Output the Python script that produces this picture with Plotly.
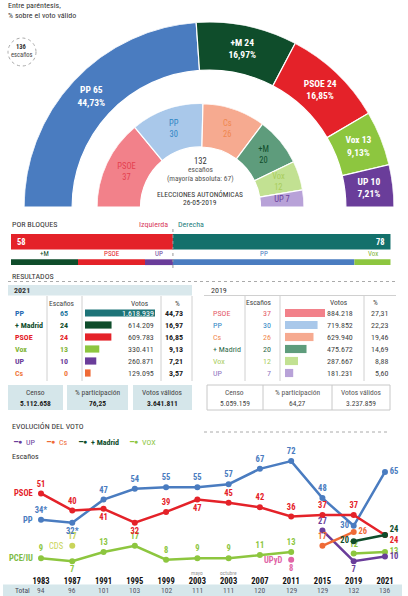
import plotly.graph_objects as go
import numpy as np

# ---------------- DATA ----------------
ring21_parties = ["PP", "+M", "PSOE", "Vox", "UP"]
ring21_seats = [65, 24, 24, 13, 10]
ring21_pct = ["44,73%", "16,97%", "16,85%", "9,13%", "7,21%"]

ring19_parties = ["PSOE", "PP", "Cs", "+M", "Vox", "UP"]
ring19_seats = [37, 30, 26, 20, 12, 7]

bloc_names = ["Izquierda", "Derecha"]
bloc_seats = [58, 78]
bloc_parties = ["+M", "PSOE", "UP", "PP", "Vox"]
bloc_party_seats = [24, 24, 10, 65, 13]

t21_party = ["PP", "+ Madrid", "PSOE", "Vox", "UP", "Cs"]
t21_seats = [65, 24, 24, 13, 10, 0]
t21_votes = [1618939, 614209, 609783, 330411, 260871, 129095]
t21_pct = ["44,73", "16,97", "16,85", "9,13", "7,21", "3,57"]

t19_party = ["PSOE", "PP", "Cs", "+ Madrid", "Vox", "UP"]
t19_seats = [37, 30, 26, 20, 12, 7]
t19_votes = [884218, 719852, 629940, 475672, 287667, 181231]
t19_pct = ["27,31", "22,23", "19,46", "14,69", "8,88", "5,60"]

stat_labels = ["Censo", "% participación", "Votos válidos"]
stat_2021 = ["5.112.658", "76,25", "3.641.811"]
stat_2019 = ["5.059.159", "64,27", "3.237.859"]

years = ["1983", "1987", "1991", "1995", "1999", "2003", "2003", "2007", "2011", "2015", "2019", "2021"]
year_notes = {5: "mayo", 6: "octubre"}
totals = [94, 96, 101, 103, 102, 111, 111, 120, 129, 129, 132, 136]
N = None
ev_psoe = [51, 40, 41, 32, 39, 47, 45, 42, 36, 37, 37, 24]
ev_pp = [34, 32, 47, 54, 55, 55, 57, 67, 72, 48, 30, 65]
ev_iu = [9, 7, 13, 17, 8, 9, 9, 11, 13, N, N, N]
ev_cds = [N, 17, N, N, N, N, N, N, N, N, N, N]
ev_upyd = [N, N, N, N, N, N, N, N, 8, N, N, N]
ev_up = [N, N, N, N, N, N, N, N, N, 27, 7, 10]
ev_cs = [N, N, N, N, N, N, N, N, N, 17, 26, N]
ev_mm = [N, N, N, N, N, N, N, N, N, N, 20, 24]
ev_vox = [N, N, N, N, N, N, N, N, N, N, 12, 13]

# ---------------- STYLE ----------------
W, H = 408, 596
def X(px): return px / W
def Y(py): return 1 - py / H

FONT = "Liberation Sans Narrow, Roboto Condensed, Roboto, sans-serif"
C = {
    "PP": "#4a7cc0", "+M": "#0f4d2b", "PSOE": "#e42229", "Vox": "#8dc63f", "UP": "#6a3d9a",
    "Cs": "#ef6a36",
}
C19 = {"PSOE": "#f2818a", "PP": "#a9c8ea", "Cs": "#f6aa90", "+M": "#5e9c7c", "Vox": "#c2e192", "UP": "#b8a2d8"}
T19 = {"PSOE": "#e4404e", "PP": "#2f86c5", "Cs": "#f0874f", "+M": "#0f4d2b", "Vox": "#a9cd5c", "UP": "#6a3d9a"}
TXT = "#333333"

fig = go.Figure()
ann = []
shapes = []

def text(px, py, s, size=8, color=TXT, xanchor="center", bold=False, yanchor="middle"):
    if bold:
        s = f"<b>{s}</b>"
    ann.append(dict(x=X(px), y=Y(py), xref="paper", yref="paper", text=s, showarrow=False,
                    xanchor=xanchor, yanchor=yanchor, font=dict(size=size, color=color, family=FONT)))

# ---------------- RINGS ----------------
def ring(seats):
    tot = sum(seats)
    w = np.array(seats) * 180.0 / tot
    start = np.concatenate([[0], np.cumsum(w)[:-1]])
    return start + w / 2, w

th21, w21 = ring(ring21_seats)
base21 = 0.74
fig.add_trace(go.Barpolar(theta=th21, width=w21, r=[1 - base21] * len(w21), base=[base21] * len(w21),
                          marker=dict(color=[C[p] for p in ring21_parties], line=dict(color="white", width=1.2)),
                          subplot="polar", showlegend=False, hoverinfo="skip"))
lab21 = [f"<b>{p} {s}<br>{q}</b>" for p, s, q in zip(ring21_parties, ring21_seats, ring21_pct)]
fig.add_trace(go.Scatterpolar(theta=th21, r=[(1 + base21) / 2] * len(w21), mode="text", text=lab21,
                              textfont=dict(color="white", size=9.5, family=FONT), subplot="polar",
                              showlegend=False, hoverinfo="skip"))

th19, w19 = ring(ring19_seats)
base19 = 0.58
fig.add_trace(go.Barpolar(theta=th19, width=w19, r=[1 - base19] * len(w19), base=[base19] * len(w19),
                          marker=dict(color=[C19[p] for p in ring19_parties], line=dict(color="white", width=1.2)),
                          subplot="polar2", showlegend=False, hoverinfo="skip"))
lab19 = []
for p, s in zip(ring19_parties, ring19_seats):
    lab19.append(f"{p} {s}" if p == "UP" else f"{p}<br>{s}")
fig.add_trace(go.Scatterpolar(theta=th19, r=[0.79] * len(w19), mode="text", text=lab19,
                              textfont=dict(color=[T19[p] for p in ring19_parties], size=8.5, family=FONT),
                              subplot="polar2", showlegend=False, hoverinfo="skip"))

# center texts
text(200, 161, "132", 8.5)
text(200, 169.5, "escaños", 7.5, "#555")
text(200, 178, "(mayoría absoluta: 67)", 7.5, "#555")
text(200, 194, "ELECCIONES AUTONÓMICAS", 7.5, "#333")
text(200, 202.5, "26-05-2019", 7.5, "#333")

# top notes
text(6, -3, "Número de diputados.", 8, xanchor="left")
text(6, 5, "Entre paréntesis,", 8, xanchor="left")
text(6, 15, "% sobre el voto válido", 8, xanchor="left")
text(400, -3, "Escrutado: 99,98%", 8, "#777", xanchor="right")
shapes.append(dict(type="circle", xref="paper", yref="paper", x0=X(8), x1=X(36), y0=Y(66), y1=Y(38),
                   line=dict(color="#aaaaaa", width=1, dash="dot")))
text(21.5, 47.5, "136", 6.5, bold=True)
text(21.5, 55.5, "escaños", 6.5, "#444")

# ---------------- BLOQUES ----------------
text(10, 225, "POR BLOQUES", 8, xanchor="left")
bloc_colors = ["#e42229", "#13706b"]
cum = 0
for n, s, c in zip(bloc_names, bloc_seats, bloc_colors):
    fig.add_trace(go.Bar(x=[s], base=[cum], y=[1], orientation="h", width=0.75, marker_color=c,
                         marker_line_width=0, xaxis="x", yaxis="y", showlegend=False, hoverinfo="skip"))
    cum += s
cum = 0
for p, s in zip(bloc_parties, bloc_party_seats):
    fig.add_trace(go.Bar(x=[s], base=[cum], y=[0], orientation="h", width=0.28, marker_color=C[p],
                         marker_line_width=0, xaxis="x", yaxis="y", showlegend=False, hoverinfo="skip"))
    ann.append(dict(x=cum + s / 2, y=0.4, xref="x", yref="y", text=p, showarrow=False, yanchor="middle",
                    font=dict(size=7, color=C[p] if p != "Vox" else "#7fb536", family=FONT)))
    cum += s
ann.append(dict(x=0, y=1, xref="x", yref="y", text=f"<b>{bloc_seats[0]}</b>", showarrow=False,
                xanchor="left", yanchor="middle", xshift=4, font=dict(size=8.5, color="white", family=FONT)))
ann.append(dict(x=sum(bloc_seats), y=1, xref="x", yref="y", text=f"<b>{bloc_seats[1]}</b>", showarrow=False,
                xanchor="right", yanchor="middle", xshift=-4, font=dict(size=8.5, color="white", family=FONT)))
ann.append(dict(x=bloc_seats[0], y=Y(225), xref="x", yref="paper", text=bloc_names[0], showarrow=False,
                xanchor="right", yanchor="middle", xshift=-3, font=dict(size=8, color="#d83a5a", family=FONT)))
ann.append(dict(x=bloc_seats[0], y=Y(225), xref="x", yref="paper", text=bloc_names[1], showarrow=False,
                xanchor="left", yanchor="middle", xshift=3, font=dict(size=8, color="#1f8080", family=FONT)))
shapes.append(dict(type="line", xref="x", yref="paper", x0=bloc_seats[0], x1=bloc_seats[0], y0=Y(229), y1=Y(271),
                   line=dict(color="#999", width=1, dash="dot")))

# ---------------- RESULTADOS ----------------
text(10, 276.5, "RESULTADOS", 8, xanchor="left")
shapes.append(dict(type="line", xref="paper", yref="paper", x0=X(8), x1=X(396), y0=Y(281.5), y1=Y(281.5),
                   line=dict(color="#aaa", width=1, dash="dot")))
# 2021 table
shapes.append(dict(type="rect", xref="paper", yref="paper", x0=X(8), x1=X(192), y0=Y(295.5), y1=Y(285),
                   fillcolor="#d9e8ec", line=dict(width=0), layer="below"))
text(12, 290.5, "2021", 8, xanchor="left", bold=True)
for xv in [47, 82, 161, 192]:
    shapes.append(dict(type="line", xref="paper", yref="paper", x0=X(xv), x1=X(xv), y0=Y(296), y1=Y(381),
                       line=dict(color="#d0d0d0", width=1)))
text(62, 303, "Escaños", 7.5, "#444")
text(140, 303, "Votos", 7.5, "#444")
text(177, 303, "%", 7.5, "#444")
t21_txt = ["#2a6cb5", C["+M"], C["PSOE"], "#7fb536", C["UP"], "#f07a40"]
t21_bar = ["#1d7478", C["+M"], C["PSOE"], C["Vox"], C["UP"], C["Cs"]]
fig.add_trace(go.Bar(x=t21_votes, y=list(range(6)), orientation="h", width=0.6, marker_color=t21_bar,
                     marker_line_width=0, xaxis="x2", yaxis="y2", showlegend=False, hoverinfo="skip"))
for i in range(6):
    ann.append(dict(x=X(13), y=i, xref="paper", yref="y2", text=f"<b>{t21_party[i]}</b>", showarrow=False,
                    xanchor="left", yanchor="middle", font=dict(size=8, color=t21_txt[i], family=FONT)))
    ann.append(dict(x=X(69.5), y=i, xref="paper", yref="y2", text=f"<b>{t21_seats[i]}</b>", showarrow=False,
                    xanchor="right", yanchor="middle",
                    font=dict(size=8, color=t21_txt[i] if i else "#2a7aa0", family=FONT)))
    ann.append(dict(x=X(156), y=i, xref="paper", yref="y2", text=f"{t21_votes[i]:,}".replace(",", "."),
                    showarrow=False, xanchor="right", yanchor="middle",
                    font=dict(size=8, color="white" if i == 0 else "#444", family=FONT)))
    ann.append(dict(x=X(185), y=i, xref="paper", yref="y2", text=f"<b>{t21_pct[i]}</b>", showarrow=False,
                    xanchor="right", yanchor="middle", font=dict(size=8, color="#222", family=FONT)))
# 2019 table
text(209, 290.5, "2019", 8, xanchor="left")
shapes.append(dict(type="line", xref="paper", yref="paper", x0=X(204), x1=X(396), y0=Y(295.5), y1=Y(295.5),
                   line=dict(color="#d0d0d0", width=1)))
for xv in [245, 280, 364]:
    shapes.append(dict(type="line", xref="paper", yref="paper", x0=X(xv), x1=X(xv), y0=Y(296), y1=Y(381),
                       line=dict(color="#d0d0d0", width=1)))
text(259, 302, "Escaños", 7.5, "#444")
text(339, 302, "Votos", 7.5, "#444")
text(375, 302, "%", 7.5, "#444")
t19_keys = ["PSOE", "PP", "Cs", "+M", "Vox", "UP"]
fig.add_trace(go.Bar(x=t19_votes, y=list(range(6)), orientation="h", width=0.68,
                     marker_color=[C19[k] for k in t19_keys], marker_line_width=0,
                     xaxis="x3", yaxis="y3", showlegend=False, hoverinfo="skip"))
t19_txt = ["#e45a68", "#2f86c5", "#f0874f", "#2e6a4c", "#a9cd5c", "#8f74bf"]
for i in range(6):
    ann.append(dict(x=X(211), y=i, xref="paper", yref="y3", text=t19_party[i], showarrow=False,
                    xanchor="left", yanchor="middle", font=dict(size=8, color=t19_txt[i], family=FONT)))
    ann.append(dict(x=X(273), y=i, xref="paper", yref="y3", text=str(t19_seats[i]), showarrow=False,
                    xanchor="right", yanchor="middle", font=dict(size=8, color=t19_txt[i], family=FONT)))
    ann.append(dict(x=X(355), y=i, xref="paper", yref="y3", text=f"{t19_votes[i]:,}".replace(",", "."),
                    showarrow=False, xanchor="right", yanchor="middle",
                    font=dict(size=8, color="#444", family=FONT)))
    ann.append(dict(x=X(390), y=i, xref="paper", yref="y3", text=t19_pct[i], showarrow=False,
                    xanchor="right", yanchor="middle", font=dict(size=8, color="#444", family=FONT)))

# stats boxes
boxes21 = [(8, 63), (67, 128), (133, 192)]
for (a, b), lab, v in zip(boxes21, stat_labels, stat_2021):
    shapes.append(dict(type="rect", xref="paper", yref="paper", x0=X(a), x1=X(b), y0=Y(410), y1=Y(385),
                       fillcolor="#d5e6ea", line=dict(width=0), layer="below"))
    text((a + b) / 2, 392, lab, 7.5, "#444")
    text((a + b) / 2, 403, v, 7.5, "#222", bold=True)
shapes.append(dict(type="rect", xref="paper", yref="paper", x0=X(207), x1=X(390), y0=Y(410), y1=Y(385),
                   line=dict(color="#c8c8c8", width=1), layer="below"))
for xv in [263, 332]:
    shapes.append(dict(type="line", xref="paper", yref="paper", x0=X(xv), x1=X(xv), y0=Y(410), y1=Y(385),
                       line=dict(color="#c8c8c8", width=1)))
for (a, b), lab, v in zip([(207, 263), (263, 332), (332, 390)], stat_labels, stat_2019):
    text((a + b) / 2, 392, lab, 7.5, "#555")
    text((a + b) / 2, 403, v, 7.5, "#444")

# ---------------- EVOLUCIÓN ----------------
text(10, 426, "EVOLUCIÓN DEL VOTO", 8, xanchor="left")
shapes.append(dict(type="line", xref="paper", yref="paper", x0=X(204), x1=X(390), y0=Y(432), y1=Y(432),
                   line=dict(color="#aaa", width=1, dash="dot")))
legend_items = [("UP", C["UP"], 11, False), ("Cs", C["Cs"], 44, False), ("+ Madrid", C["+M"], 76, True),
                ("VOX", C["Vox"], 127, False)]
for name, col, xl, b in legend_items:
    text(xl, 442, "━●", 7, col, xanchor="left")
    text(xl + 13, 442, name, 8, col, xanchor="left", bold=b)
text(10, 456, "Escaños", 8, xanchor="left")

xi = list(range(len(years)))

def series(vals, color, pos, labels=None, lw=2.5):
    txt = [(f"<b>{v}</b>" if v is not None else "") for v in vals] if labels is None else labels
    fig.add_trace(go.Scatter(x=xi, y=vals, mode="lines+markers+text", text=txt, textposition=pos,
                             line=dict(color=color, width=lw), marker=dict(size=6, color=color),
                             textfont=dict(color=color, size=8.5, family=FONT), cliponaxis=False,
                             connectgaps=False, xaxis="x4", yaxis="y4", showlegend=False, hoverinfo="skip"))

T, B, L, R = "top center", "bottom center", "middle left", "middle right"
series(ev_iu, "#8dc63f", [T, B, T, T, T, T, T, T, T, T, T, T])
series(ev_vox, "#8dc63f", [T] * 11 + [R])
series(ev_cds, "#c9d45a", [T] * 12)
series(ev_upyd, "#e064a6", [B] * 12)
series(ev_up, C["UP"], [T] * 10 + [B, R])
series(ev_cs, C["Cs"], [T] * 10 + [R, R])
pp_lab = [f"<b>{v}*</b>" if i < 2 else f"<b>{v}</b>" for i, v in enumerate(ev_pp)]
series(ev_pp, C["PP"], [T, B, T, T, T, T, T, T, T, T, L, R], labels=pp_lab)
psoe_lab = [f"<b>{v}</b>" for v in ev_psoe[:-1]] + [f" <br><b>{ev_psoe[-1]}</b>"]
series(ev_psoe, C["PSOE"], [T, T, B, B, T, B, T, T, T, T, T, R], labels=psoe_lab)
mm_lab = [""] * 10 + [f"<b>{ev_mm[10]}</b>", f"<b>{ev_mm[11]}</b><br> "]
series(ev_mm, C["+M"], [T] * 10 + [L, R], labels=mm_lab)

for nm, idx, vals, col in [("PSOE", 0, ev_psoe, C["PSOE"]), ("PP", 0, ev_pp, C["PP"]),
                           ("PCE/IU", 0, ev_iu, "#7dbb45"), ("CDS", 1, ev_cds, "#c9d45a"),
                           ("UPyD", 8, ev_upyd, "#e064a6")]:
    ann.append(dict(x=idx, y=vals[idx], xref="x4", yref="y4", text=f"<b>{nm}</b>" if nm != "CDS" else nm,
                    showarrow=False, xanchor="right", yanchor="middle", xshift=-6,
                    font=dict(size=8.5, color=col, family=FONT)))
for k, note in year_notes.items():
    ann.append(dict(x=k, y=Y(573), xref="x4", yref="paper", text=note, showarrow=False, yanchor="middle",
                    font=dict(size=5.5, color="#999", family=FONT)))
shapes.append(dict(type="rect", xref="paper", yref="paper", x0=X(3), x1=X(402), y0=Y(596), y1=Y(584.5),
                   fillcolor="#d6e7eb", line=dict(width=0), layer="below"))
text(13, 590.5, "Total", 7.5, "#445", xanchor="left")
for i, t in enumerate(totals):
    ann.append(dict(x=i, y=Y(590.5), xref="x4", yref="paper", text=str(t), showarrow=False, yanchor="middle",
                    font=dict(size=7.5, color="#556", family=FONT)))

# ---------------- LAYOUT ----------------
px_step = 31.27
x4_range = [-0.8, 11.6]
x4_dom = [X(41 + x4_range[0] * px_step), X(41 + x4_range[1] * px_step)]
unit = 1.54

fig.update_layout(
    width=W, height=H, margin=dict(l=0, r=0, t=0, b=0),
    paper_bgcolor="white", plot_bgcolor="white", barmode="overlay",
    font=dict(family=FONT, color=TXT),
    polar=dict(domain=dict(x=[X(24), X(394)], y=[Y(207), Y(22)]), sector=[0, 180],
               bgcolor="rgba(0,0,0,0)",
               radialaxis=dict(visible=False, range=[0, 1]),
               angularaxis=dict(visible=False, rotation=180, direction="clockwise")),
    polar2=dict(domain=dict(x=[X(97), X(304)], y=[Y(207), Y(103.5)]), sector=[0, 180],
                bgcolor="rgba(0,0,0,0)",
                radialaxis=dict(visible=False, range=[0, 1]),
                angularaxis=dict(visible=False, rotation=180, direction="clockwise")),
    xaxis=dict(domain=[X(11), X(390.7)], range=[0, sum(bloc_seats)], visible=False, fixedrange=True),
    yaxis=dict(domain=[Y(270), Y(230)], range=[-0.38, 1.57], visible=False, anchor="x"),
    xaxis2=dict(domain=[X(85), X(155)], range=[0, max(t21_votes)], visible=False, anchor="y2"),
    yaxis2=dict(domain=[Y(379), Y(307)], range=[5.5, -0.5], visible=False, anchor="x2"),
    xaxis3=dict(domain=[X(285), X(325)], range=[0, max(t19_votes)], visible=False, anchor="y3"),
    yaxis3=dict(domain=[Y(379), Y(307)], range=[5.5, -0.5], visible=False, anchor="x3"),
    xaxis4=dict(domain=x4_dom, range=x4_range, anchor="y4", tickmode="array", tickvals=xi, ticktext=years,
                showgrid=False, zeroline=False, showline=False, ticks="",
                tickfont=dict(size=8.5, color="#111", family=FONT, weight="bold"), ticklabelstandoff=2),
    yaxis4=dict(domain=[Y(572), Y(440)], range=[0, 132 / unit], visible=False, anchor="x4"),
    annotations=ann, shapes=shapes,
)

fig.write_html("out.html", config={"displayModeBar": False, "staticPlot": True},
               post_script="document.body.style.margin='0';document.body.style.overflow='hidden';")
